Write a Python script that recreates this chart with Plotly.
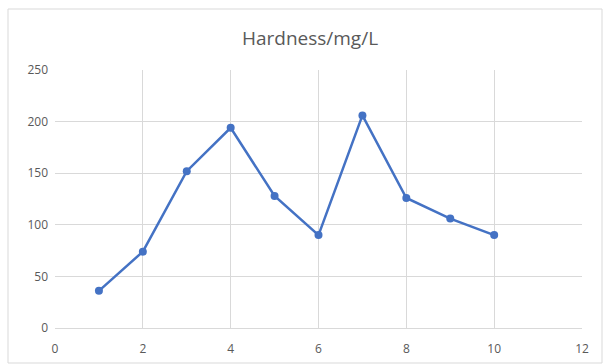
import plotly.graph_objects as go

sample_no = [1, 2, 3, 4, 5, 6, 7, 8, 9, 10]
hardness = [36, 74, 152, 194, 128, 90, 206, 126, 106, 90]
x_ticks = [0, 2, 4, 6, 8, 10, 12]
y_ticks = [0, 50, 100, 150, 200, 250]
title_text = "Hardness/mg/L"

W, H = 603, 364
ML, MR, MT, MB = 55, 21, 70, 36
pw, ph = W - ML - MR, H - MT - MB

fig = go.Figure()
fig.add_trace(go.Scatter(
    x=sample_no, y=hardness, mode="lines+markers",
    line=dict(color="#4472C4", width=2.5),
    marker=dict(color="#4472C4", size=8),
    showlegend=False,
))

grid = "#D9D9D9"
tickfont = dict(family="Open Sans, Liberation Sans, sans-serif", size=12, color="#595959")

fig.update_layout(
    width=W, height=H,
    margin=dict(l=ML, r=MR, t=MT, b=MB),
    paper_bgcolor="white", plot_bgcolor="white",
    title=dict(text=title_text, x=(310) / W, xanchor="center", y=1 - 38 / H, yanchor="middle",
               font=dict(family="Open Sans, Liberation Sans, sans-serif", size=19, color="#595959")),
    xaxis=dict(range=[0, 12], tickvals=x_ticks, showgrid=True, gridcolor=grid, gridwidth=1,
               zeroline=False, showline=True, linecolor=grid, linewidth=1,
               ticks="", tickfont=tickfont, ticklabelstandoff=10, automargin=False,
               fixedrange=True),
    yaxis=dict(range=[0, 250], tickvals=y_ticks, showgrid=True, gridcolor=grid, gridwidth=1,
               zeroline=False, showline=False, ticks="", ticklen=0, tickfont=tickfont,
               ticklabelstandoff=6, automargin=False, fixedrange=True),
)

# chart outer border (in paper coords relative to plot area)
x0 = (8 - ML) / pw
x1 = (602 - ML) / pw
y1 = (H - MB - 9) / ph
y0 = (H - MB - 363) / ph
fig.add_shape(type="rect", xref="paper", yref="paper", x0=x0, x1=x1, y0=y0, y1=y1,
              line=dict(color="#D9D9D9", width=1), layer="below")

fig.write_html("out.html")
